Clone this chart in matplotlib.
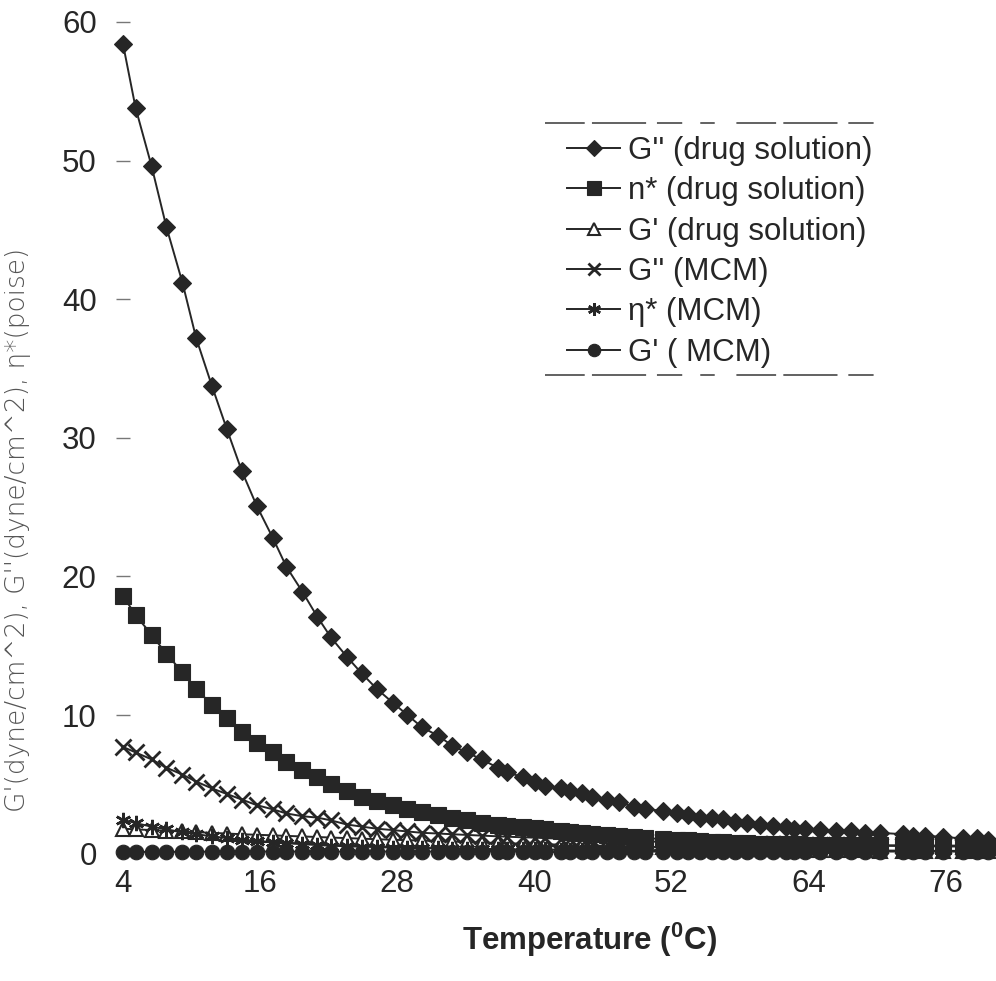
import numpy as np
import matplotlib
matplotlib.use('Agg')
import matplotlib.pyplot as plt
from matplotlib.lines import Line2D

plt.rcParams['font.family'] = 'Liberation Sans'
plt.rcParams['mathtext.fontset'] = 'custom'
plt.rcParams['mathtext.rm'] = 'Liberation Sans'
plt.rcParams['mathtext.bf'] = 'Liberation Sans:bold'

# temperature (deg C) of each reading
temps = [4.0, 5.1, 6.5, 7.8, 9.2, 10.4, 11.8, 13.1, 14.4, 15.7,
         17.1, 18.3, 19.7, 21.0, 22.2, 23.6, 24.9, 26.2, 27.6, 28.9,
         30.2, 31.6, 32.8, 34.1, 35.4, 36.8, 37.6, 39.0, 40.1, 40.9,
         42.3, 43.1, 44.2, 45.1, 46.4, 47.4, 48.7, 49.7, 51.3, 52.5,
         53.5, 54.5, 55.6, 56.5, 57.6, 58.6, 59.8, 60.9, 62.0, 62.7,
         63.7, 65.0, 66.4, 67.7, 69.0, 70.3, 72.3, 73.2, 74.2, 75.8,
         77.5, 78.8, 79.7]

g2_drug = [58.4, 53.8, 49.6, 45.2, 41.2, 37.2, 33.7, 30.6, 27.6, 25.1,
           22.8, 20.7, 18.9, 17.1, 15.6, 14.2, 13.0, 11.9, 10.9, 10.0,
           9.1, 8.5, 7.8, 7.3, 6.8, 6.2, 5.9, 5.5, 5.2, 4.9,
           4.7, 4.5, 4.4, 4.1, 3.9, 3.7, 3.4, 3.2, 3.1, 2.9,
           2.8, 2.6, 2.6, 2.5, 2.3, 2.2, 2.1, 2.0, 1.9, 1.8,
           1.8, 1.7, 1.6, 1.6, 1.5, 1.5, 1.4, 1.3, 1.3, 1.2,
           1.1, 1.1, 1.0]

eta_drug = [18.6, 17.2, 15.8, 14.4, 13.1, 11.9, 10.7, 9.8, 8.8, 8.0,
            7.3, 6.6, 6.0, 5.5, 5.0, 4.5, 4.1, 3.8, 3.5, 3.2,
            3.0, 2.8, 2.6, 2.4, 2.2, 2.1, 2.0, 1.9, 1.85, 1.8,
            1.65, 1.58, 1.5, 1.42, 1.35, 1.28, 1.2, 1.12, 1.05, 1.0,
            0.95, 0.9, 0.86, 0.82, 0.79, 0.76, 0.73, 0.7, 0.68, 0.66,
            0.65, 0.64, 0.63, 0.62, 0.61, 0.6, 0.6, 0.59, 0.59, 0.58,
            0.58, 0.57, 0.57]

g1_drug = [1.8, 1.75, 1.7, 1.65, 1.6, 1.55, 1.5, 1.45, 1.4, 1.36,
           1.32, 1.28, 1.24, 1.2, 1.16, 1.12, 1.08, 1.04, 1.0, 0.97,
           0.94, 0.9, 0.87, 0.84, 0.8, 0.77, 0.75, 0.72, 0.7, 0.68,
           0.65, 0.63, 0.6, 0.58, 0.56, 0.54, 0.51, 0.49, 0.47, 0.45,
           0.43, 0.41, 0.4, 0.38, 0.36, 0.35, 0.33, 0.32, 0.3, 0.29,
           0.28, 0.27, 0.25, 0.24, 0.23, 0.22, 0.21, 0.2, 0.2, 0.19,
           0.18, 0.18, 0.17]

g2_mcm = [7.7, 7.3, 6.8, 6.2, 5.7, 5.2, 4.7, 4.3, 3.9, 3.5,
          3.2, 2.9, 2.7, 2.6, 2.4, 2.1, 1.95, 1.8, 1.7, 1.6,
          1.5, 1.45, 1.4, 1.35, 1.3, 1.25, 1.22, 1.18, 1.15, 1.12,
          1.08, 1.05, 1.02, 0.99, 0.96, 0.93, 0.9, 0.88, 0.85, 0.83,
          0.81, 0.79, 0.77, 0.75, 0.73, 0.71, 0.69, 0.67, 0.66, 0.65,
          0.63, 0.62, 0.6, 0.59, 0.58, 0.57, 0.55, 0.54, 0.53, 0.52,
          0.51, 0.5, 0.5]

eta_mcm = [2.45, 2.2, 1.95, 1.75, 1.55, 1.4, 1.25, 1.12, 1.0, 0.9,
           0.82, 0.75, 0.68, 0.62, 0.57, 0.53, 0.5, 0.47, 0.44, 0.42,
           0.4, 0.38, 0.36, 0.35, 0.34, 0.33, 0.32, 0.31, 0.3, 0.3,
           0.29, 0.29, 0.28, 0.28, 0.27, 0.27, 0.26, 0.26, 0.25, 0.25,
           0.25, 0.24, 0.24, 0.24, 0.23, 0.23, 0.23, 0.22, 0.22, 0.22,
           0.22, 0.21, 0.21, 0.21, 0.21, 0.2, 0.2, 0.2, 0.2, 0.2,
           0.2, 0.2, 0.2]

g1_mcm = [0.12, 0.12, 0.13, 0.13, 0.13, 0.14, 0.14, 0.14, 0.14, 0.15,
          0.15, 0.15, 0.15, 0.15, 0.15, 0.15, 0.15, 0.15, 0.15, 0.15,
          0.15, 0.15, 0.15, 0.15, 0.15, 0.15, 0.15, 0.15, 0.15, 0.15,
          0.15, 0.15, 0.15, 0.15, 0.15, 0.15, 0.15, 0.15, 0.15, 0.15,
          0.15, 0.15, 0.15, 0.15, 0.15, 0.15, 0.15, 0.15, 0.15, 0.15,
          0.15, 0.15, 0.15, 0.15, 0.15, 0.15, 0.15, 0.15, 0.15, 0.15,
          0.15, 0.15, 0.15]

labels = ["G'' (drug solution)", "n* (drug solution)", "G' (drug solution)",
          "G'' (MCM)", "\u03b7* (MCM)", "G' ( MCM)"]

xticks = [4, 16, 28, 40, 52, 64, 76]
yticks = [0, 10, 20, 30, 40, 50, 60]

ink = '#262626'

# marker, size, face colour, edge width for each series
styles = [
    dict(marker='D', markersize=9.2, markerfacecolor=ink, markeredgewidth=0.8),
    dict(marker='s', markersize=11.5, markerfacecolor=ink, markeredgewidth=0.8),
    dict(marker='^', markersize=9.5, markerfacecolor='white', markeredgewidth=1.5),
    dict(marker='x', markersize=11, markerfacecolor=ink, markeredgewidth=2.0),
    dict(marker=(6, 2, 0), markersize=11, markerfacecolor=ink, markeredgewidth=1.8),
    dict(marker='o', markersize=10.5, markerfacecolor=ink, markeredgewidth=0.8),
]

fig = plt.figure(figsize=(9.96, 9.81), dpi=100)
ax = fig.add_axes([110 / 996, 1 - 865 / 981, 888 / 996, 850 / 981])

series = [g2_drug, eta_drug, g1_drug, g2_mcm, eta_mcm, g1_mcm]
for values, style, name in zip(series, styles, labels):
    ax.plot(temps, values, color=ink, linewidth=1.4,
            markeredgecolor=ink, label=name, **style)

ax.set_xlim(2.86, 80.6)
ax.set_ylim(-0.82, 60.5)
ax.set_xticks(xticks)
ax.set_yticks(yticks)

for side in ['top', 'right', 'bottom', 'left']:
    ax.spines[side].set_visible(False)
# value axis crosses at the first category
ax.spines['left'].set_position(('data', 4))

ax.tick_params(axis='y', direction='inout', length=10, width=1,
               color='#777777', pad=14, labelsize=22.5, labelcolor=ink)
ax.tick_params(axis='x', length=0, pad=3, labelsize=22.5, labelcolor=ink)

# legend, no frame; scanned box edges drawn as broken rules
handles = [Line2D([0], [0], color=ink, linewidth=1.4, markeredgecolor=ink,
                  **dict(st, markersize=st['markersize'] * 0.85))
           for st in styles]
leg = fig.legend(handles, labels, loc='upper left',
                 bbox_to_anchor=(567 / 996, 1 - 136 / 981),
                 frameon=False, fontsize=22.5, borderpad=0, borderaxespad=0,
                 handlelength=1.7, handletextpad=0.25, labelspacing=0.33)
for t in leg.get_texts():
    t.set_color(ink)

for ypix in [123, 375]:
    fig.add_artist(Line2D([545 / 996, 880 / 996], [1 - ypix / 981] * 2,
                          color='#555555', linewidth=1.3,
                          dashes=(22, 4, 30, 6, 14, 10, 8, 12)))

fig.text(18 / 996, 1 - 530 / 981,
         "G'(dyne/cm^2), G''(dyne/cm^2), \u03b7*(poise)",
         rotation=90, ha='center', va='center', fontsize=19,
         color='#555555', family='DejaVu Sans', fontweight='light')

fig.text(590 / 996, 1 - 940 / 981, r'Temperature ($\mathbf{^{0}}$C)',
         ha='center', va='center', fontsize=22.5, fontweight='bold',
         color=ink)

fig.savefig('out.png', dpi=100)
